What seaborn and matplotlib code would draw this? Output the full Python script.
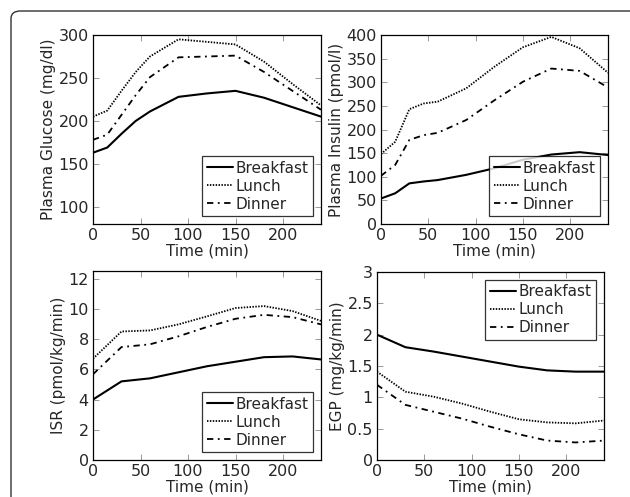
import numpy as np
import pandas as pd
import seaborn as sns
import matplotlib
matplotlib.use("Agg")
import matplotlib.pyplot as plt
from matplotlib.patches import FancyBboxPatch

# Sampling times (min)
t_fine = [0, 15, 30, 45, 60, 90, 120, 150, 180, 210, 240]
t_coarse = [0, 30, 60, 90, 120, 150, 180, 210, 240]

meals = ["Breakfast", "Lunch", "Dinner"]

# Plasma glucose (mg/dl)
glucose_breakfast = [163, 169, 185, 200, 211, 228, 232, 235, 227, 216, 205]
glucose_lunch = [205, 212, 235, 257, 275, 295, 292, 289, 269, 243, 218]
glucose_dinner = [178, 184, 207, 230, 251, 274, 275, 276, 257, 235, 213]

# Plasma insulin (pmol/l)
insulin_breakfast = [54, 65, 86, 90, 93, 104, 118, 136, 147, 152, 146]
insulin_lunch = [148, 174, 243, 255, 259, 287, 333, 374, 396, 372, 320]
insulin_dinner = [102, 125, 178, 188, 193, 220, 262, 301, 329, 324, 289]

# Insulin secretion rate (pmol/kg/min)
isr_breakfast = [4.0, 5.2, 5.4, 5.8, 6.2, 6.5, 6.8, 6.85, 6.65]
isr_lunch = [6.7, 8.5, 8.57, 8.97, 9.5, 10.05, 10.18, 9.85, 9.2]
isr_dinner = [5.67, 7.47, 7.65, 8.18, 8.8, 9.34, 9.6, 9.45, 8.97]

# Endogenous glucose production (mg/kg/min)
egp_breakfast = [2.0, 1.8, 1.73, 1.65, 1.57, 1.49, 1.43, 1.41, 1.41]
egp_lunch = [1.41, 1.09, 1.01, 0.9, 0.77, 0.65, 0.6, 0.585, 0.63]
egp_dinner = [1.2, 0.88, 0.77, 0.66, 0.53, 0.41, 0.31, 0.28, 0.31]

sns.set_style("ticks", {
    "xtick.direction": "in", "ytick.direction": "in",
    "axes.edgecolor": "black",
})
plt.rcParams["font.family"] = ["DejaVu Sans"]
plt.rcParams["font.size"] = 11
plt.rcParams["xtick.top"] = True
plt.rcParams["ytick.right"] = True


def long_frame(t, b, l, d):
    rows = []
    for meal, vals in zip(meals, [b, l, d]):
        for ti, v in zip(t, vals):
            rows.append({"Time": ti, "Value": v, "Meal": meal})
    return pd.DataFrame(rows)


fig = plt.figure(figsize=(6.30, 4.97), dpi=100)
W, H = 630, 497


def add_axes(x0, y0, x1, y1):
    return fig.add_axes([x0 / W, 1 - y1 / H, (x1 - x0) / W, (y1 - y0) / H])


panels = [
    (add_axes(93, 35, 321, 224), long_frame(t_fine, glucose_breakfast, glucose_lunch, glucose_dinner),
     "Plasma Glucose (mg/dl)", (80, 300), [100, 150, 200, 250, 300], "lower right"),
    (add_axes(381, 35, 608, 224), long_frame(t_fine, insulin_breakfast, insulin_lunch, insulin_dinner),
     "Plasma Insulin (pmol/l)", (0, 400), list(range(0, 401, 50)), "lower right"),
    (add_axes(93, 271, 321, 460), long_frame(t_coarse, isr_breakfast, isr_lunch, isr_dinner),
     "ISR (pmol/kg/min)", (0, 12.5), list(range(0, 13, 2)), "lower right"),
    (add_axes(377, 272, 604, 460), long_frame(t_coarse, egp_breakfast, egp_lunch, egp_dinner),
     "EGP (mg/kg/min)", (0, 3), [0, 0.5, 1, 1.5, 2, 2.5, 3], "upper right"),
]

styles = {"Breakfast": "-", "Lunch": (0, (0.8, 0.8)), "Dinner": (0, (3.5, 2.5, 1, 2.5))}
widths = {"Breakfast": 1.5, "Lunch": 1.3, "Dinner": 1.3}

for ax, df, ylabel, ylim, yticks, loc in panels:
    for meal in meals:
        sub = df[df["Meal"] == meal]
        sns.lineplot(data=sub, x="Time", y="Value", ax=ax, color="black",
                     linestyle=styles[meal], linewidth=widths[meal], label=meal)
    ax.set_xlim(0, 240)
    ax.set_ylim(*ylim)
    ax.set_xticks([0, 50, 100, 150, 200])
    ax.set_yticks(yticks)
    ax.set_yticklabels([f"{v:g}" for v in yticks])
    ax.set_xlabel("Time (min)", fontsize=11, labelpad=0)
    ax.set_ylabel(ylabel, fontsize=11, labelpad=2)
    ax.tick_params(direction="in", length=4, width=0.6, color="#888888",
                   labelsize=11.5, top=True, right=True, pad=3)
    for s in ax.spines.values():
        s.set_linewidth(0.9)
        s.set_color("black")
    leg = ax.legend(loc=loc, frameon=True, fancybox=False, fontsize=11,
                    handlelength=1.7, handletextpad=0.2, borderpad=0.3,
                    labelspacing=0.2, borderaxespad=0.5)
    leg.get_frame().set_edgecolor("black")
    leg.get_frame().set_linewidth(0.9)

# Rounded outer frame
frame = FancyBboxPatch((11 / W, -0.2), 1.2, 1 - 11 / H + 0.2,
                       boxstyle="round,pad=0,rounding_size=0.015",
                       transform=fig.transFigure, fill=False,
                       edgecolor="#333333", linewidth=1.0, clip_on=False)
fig.patches.append(frame)

fig.savefig("out.png", dpi=100)
